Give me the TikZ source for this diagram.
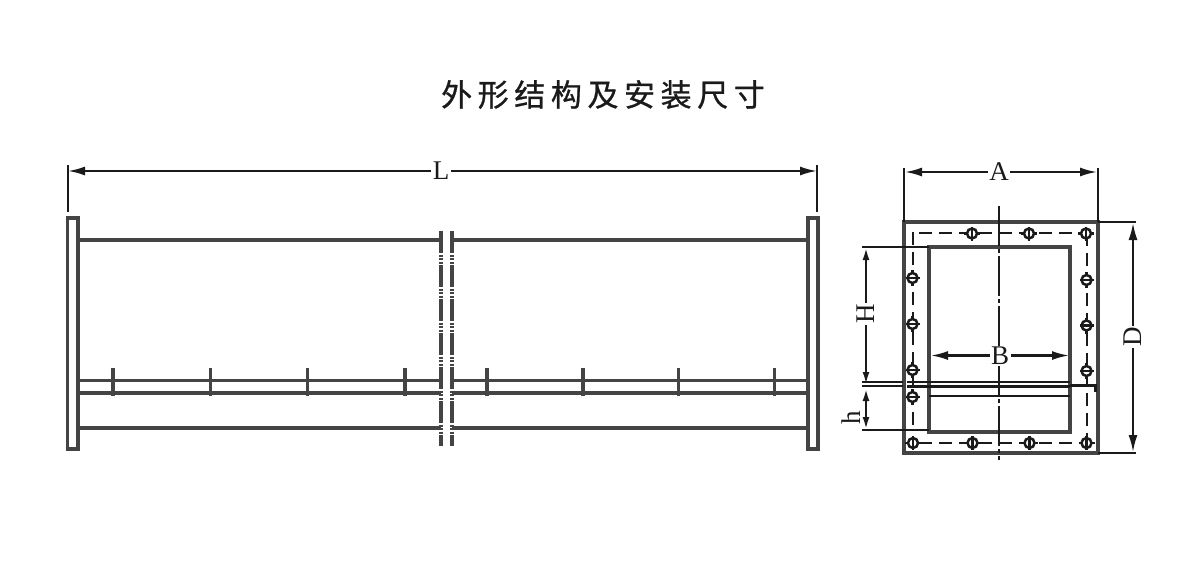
\documentclass[tikz,border=0pt]{standalone}
\usepackage{fontspec}
\setmainfont{Liberation Serif}
\newfontfamily\cjk[LetterSpace=18,FakeBold=0.8]{Noto Sans CJK SC}
\usetikzlibrary{arrows.meta}
\definecolor{ink}{HTML}{1A1A1A}
\definecolor{softink}{HTML}{444444}
\tikzset{
  x=1pt,y=-1pt,
  every path/.style={line cap=butt},
  part/.style={draw=softink,line width=3.05pt},
  thin part/.style={draw=ink,line width=2.05pt},
  dim/.style={draw=ink,line width=2.05pt},
  dimarrow/.style={dim,{Latex[length=17pt,width=9pt]}-{Latex[length=17pt,width=9pt]}},
  smallarrow/.style={dim,{Latex[length=12pt,width=7pt]}-{Latex[length=12pt,width=7pt]}},
  breakline/.style={draw=softink,line width=3.05pt,dash pattern=on 22pt off 1.5pt on 2pt off 1.5pt on 2pt off 1.5pt on 2pt off 1.5pt},
  dashedbolt/.style={draw=ink,line width=2.05pt,dash pattern=on 13pt off 7pt},
  centerline/.style={draw=ink,line width=2.05pt,dash pattern=on 40pt off 3pt on 4pt off 3pt},
  tick/.style={draw=softink,line width=3.05pt,dash pattern=on 12pt off 2pt on 14pt},
  label/.style={font=\fontsize{27}{27}\selectfont,inner sep=1.5pt,fill=white,text=ink},
  hole/.style={circle,draw=ink,line width=2.5pt,fill=white,minimum size=10pt,inner sep=0pt},
}
\newcommand{\boltv}[2]{\draw[draw=ink,line width=2.05pt] (#1,#2-8) -- (#1,#2+8);\node[hole] at (#1,#2) {};\draw[draw=ink,line width=2.05pt] (#1-7,#2) -- (#1+7,#2);}
\newcommand{\bolth}[2]{\draw[draw=ink,line width=2.05pt] (#1-8,#2) -- (#1+8,#2);\node[hole] at (#1,#2) {};\draw[draw=ink,line width=2.05pt] (#1,#2-7) -- (#1,#2+7);}
\begin{document}
\begin{tikzpicture}
\useasboundingbox[fill=white] (0,0) rectangle (1194,579);
\node[text=ink,font=\cjk\fontsize{31}{31}\selectfont,inner sep=0pt] (title) at (603,94.5) {外形结构及安装尺寸};

% left view: body lines
\foreach \yy in {240,380.5,393,428}{
  \draw[part] (78,\yy) -- (441,\yy);
  \draw[part] (452,\yy) -- (808,\yy);
}
\draw[part,fill=white] (67.5,218) rectangle (78,449);
\draw[part,fill=white] (808,218) rectangle (818,449);
\draw[breakline] (441,231) -- (441,446);
\draw[breakline] (452,231) -- (452,446);
\foreach \xx in {113,210.5,307.5,405,487,583,678.5,774.5}{
  \draw[tick] (\xx,368) -- (\xx,397);
}
% L dimension
\coordinate (L1) at (68,171);
\coordinate (L2) at (817,171);
\draw[dim] (68,165) -- (68,212);
\draw[dim] (817,165) -- (817,212);
\draw[dimarrow] (L1) -- (L2);
\node[label] (L) at (441,171) {L};

% right view
\draw[part] (904,222) rectangle (1098,453);
\draw[dim] (904,168) -- (904,222);
\draw[dim] (1098,168) -- (1098,222);
\draw[dim] (1098,222) -- (1136,222);
\draw[dim] (1098,453) -- (1136,453);
\draw[dashedbolt] (919,233) -- (1087,233);
\draw[dashedbolt] (1087,233) -- (1087,443);
\draw[dashedbolt] (919,443) -- (1087,443);
\draw[dashedbolt] (913,232) -- (913,425);
% opening
\draw[part] (929,247) rectangle (1070,432);
\draw[dim] (862,247) -- (929,247);
\draw[dim] (862,430) -- (929,430);
% blade
\draw[thin part] (862,382) -- (903,382);
\draw[thin part] (862,386) -- (903,386);
\draw[thin part] (907,382) -- (1070,382);
\draw[thin part] (907,386.5) -- (1070,386.5);
\draw[thin part] (929,396) -- (1070,396);
\draw[draw=ink,line width=3.05pt] (1070,385.5) -- (1095.5,385.5) -- (1095.5,392);
% center line
\draw[centerline] (999,206) -- (999,460);
% bolts
\foreach \xx in {972,1029,1086}{\bolth{\xx}{233.5}}
\foreach \xx in {913,972.5,1029.5,1086.5}{\bolth{\xx}{443}}
\foreach \yy in {278,324,370,397}{\boltv{912.5}{\yy}}
\foreach \yy in {280,325.5,371}{\boltv{1086.5}{\yy}}
% dimensions
\draw[dimarrow] (905,172) -- (1097,172);
\node[label] (A) at (999,172) {A};
\draw[dimarrow] (1133,223) -- (1133,452);
\node[label,rotate=90] (D) at (1133,337) {D};
\draw[dimarrow] (931,355.5) -- (1069,355.5);
\node[label] (B) at (1000,356) {B};
\draw[smallarrow] (866,248) -- (866,384);
\node[label,rotate=90] (H) at (866,314) {H};
\draw[smallarrow] (866,389) -- (866,429);
\node[label,rotate=90,fill=none] (h) at (851,418) {h};
\end{tikzpicture}
\end{document}
